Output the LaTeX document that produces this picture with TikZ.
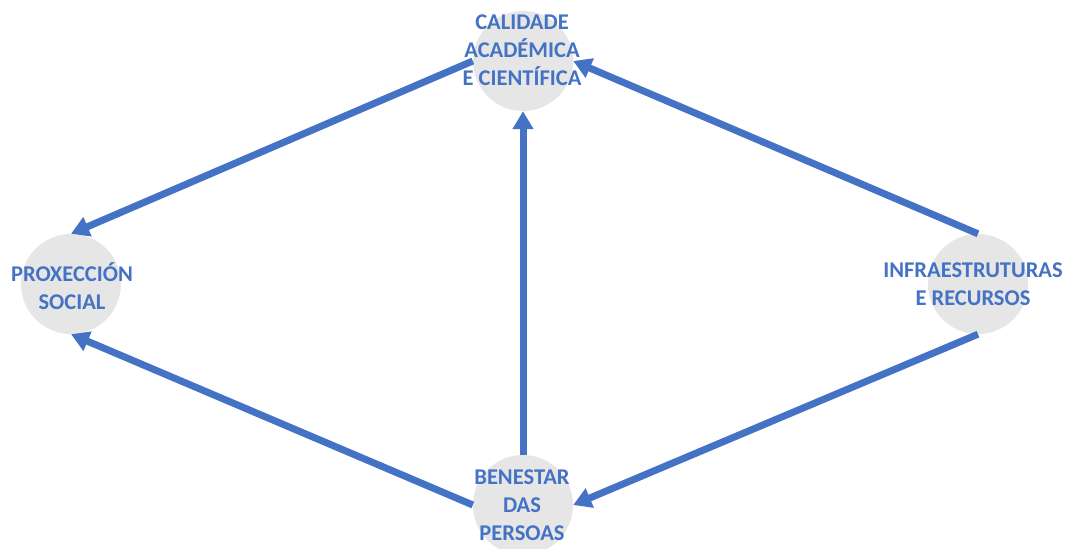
\documentclass[tikz,border=0pt]{standalone}
\usepackage{fontspec}
\setmainfont{Carlito}
\usetikzlibrary{arrows.meta}
\definecolor{accblue}{HTML}{4472C4}
\definecolor{circgray}{HTML}{E6E6E6}
\begin{document}
\begin{tikzpicture}[x=1pt,y=-1pt,
  circ/.style={circle,fill=circgray,minimum size=100pt,inner sep=0pt},
  lbl/.style={font=\fontsize{22.5}{28}\selectfont\bfseries,text=accblue,align=center,inner sep=0pt},
  conn/.style={draw=accblue,line width=7pt,-{Triangle[width=20pt,length=18pt]}}]
\useasboundingbox (0,0) rectangle (1069,549);
\node[circ] (top) at (523,61) {};
\node[circ] (left) at (71,284) {};
\node[circ] (right) at (978,284) {};
\node[circ] (bot) at (523,505) {};
\node[lbl] (topt) at (522,50) {CALIDADE\\ACADÉMICA\\E CIENTÍFICA};
\node[lbl] (leftt) at (72,286) {PROXECCIÓN\\SOCIAL};
\node[lbl] (rightt) at (973,284) {INFRAESTRUTURAS\\E RECURSOS};
\node[lbl] (bott) at (522,505) {BENESTAR\\DAS\\PERSOAS};
\draw[conn] (top.west) -- (left.north);
\draw[conn] (bot.west) -- (left.south);
\draw[conn] (bot.north) -- (top.south);
\draw[conn] (right.north) -- (top.east);
\draw[conn] (right.south) -- (bot.east);
\end{tikzpicture}
\end{document}
